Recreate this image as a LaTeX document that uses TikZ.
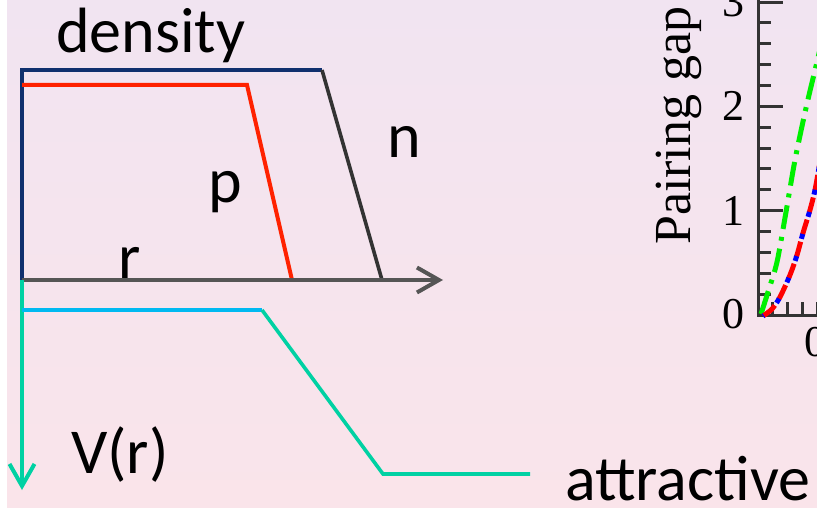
\documentclass[tikz,border=0pt]{standalone}
\usepackage{fontspec}
\setmainfont{Carlito}
\newfontfamily\timesfont{Liberation Serif}
\usetikzlibrary{arrows.meta}
\definecolor{navyc}{HTML}{10306E}
\definecolor{redc}{HTML}{FF2200}
\definecolor{tealc}{HTML}{00D1A3}
\definecolor{cyanc}{HTML}{00B9F1}
\definecolor{axgray}{HTML}{555555}
\definecolor{slopegray}{HTML}{333333}
\definecolor{bgtop}{HTML}{F1E4F1}
\definecolor{bgbot}{HTML}{FAE4EA}
\definecolor{plotgreen}{HTML}{00F000}
\begin{document}
\begin{tikzpicture}[x=1pt,y=-1pt,
  lbl/.style={inner sep=0pt, anchor=base west, font=\fontsize{64}{72}\selectfont},
  tick/.style={inner sep=0pt, font=\timesfont\fontsize{44}{50}\selectfont},
  barb/.style={-{Straight Barb[length=22pt,width=25pt,line width=4pt]}},
  plotax/.style={black!80, line width=3pt}]
\useasboundingbox (0,0) rectangle (817,508);
\clip (0,0) rectangle (817,508);
\fill[white] (0,0) rectangle (7,508);
\shade[top color=bgtop, bottom color=bgbot] (7,0) rectangle (817,508);

% density panel
\coordinate (o) at (22,280);
\draw[navyc, line width=4pt] (o) -- (22,70) -- (322,70);
\draw[slopegray, line width=3.6pt] (322,70) -- (382,280);
\draw[redc, line width=4pt] (22,85) -- (247,85) -- (292,280);
\draw[axgray, line width=4pt, barb] (o) -- (443,280);
\node[lbl] (dens) at (56,53) {density};
\node[lbl] (nl) at (387,158) {n};
\node[lbl] (pl) at (208,203) {p};
\node[lbl] (rl) at (118,278) {r};

% potential panel
\draw[tealc, line width=4pt, barb] (o) -- (22,490);
\draw[cyanc, line width=4pt] (22,310) -- (262,310);
\draw[tealc, line width=3.6pt] (262,310) -- (383,474) -- (530,474);
\node[lbl] (vl) at (71,473) {V(r)};
\node[lbl] (al) at (565,500) {attractive};

% pairing gap plot (cropped)
\draw[plotax] (758,-5) -- (758,315) -- (830,315);
\foreach \i in {0,1,2,3} {
  \draw[plotax] (758,{315-\i*104.3}) -- (783,{315-\i*104.3});
}
\foreach \i in {1,2,3,4,6,7,8,9,11,12,13,14} {
  \draw[plotax] (758,{315-\i*20.86}) -- (771,{315-\i*20.86});
}
\foreach \x in {772,787,802,817} {
  \draw[plotax] (\x,315) -- (\x,302);
}
\node[tick, anchor=east] (y0) at (745,314) {0};
\node[tick, anchor=east] (y1) at (745,211) {1};
\node[tick, anchor=east] (y2) at (745,106) {2};
\node[tick, anchor=east] (y3) at (745,2) {3};
\node[tick, anchor=west] (x0) at (804,342) {0};
\node[inner sep=0pt, rotate=90, anchor=base west, font=\timesfont\fontsize{52}{60}\selectfont] (pg) at (690,245) {Pairing gap};

\draw[plotgreen, line width=5pt, dash pattern=on 24pt off 8pt on 4pt off 8pt]
  plot[smooth] coordinates {(761,314) (768,292) (777,262) (786,212) (795,160) (806,108) (817,62) (821,45)};
\draw[red, line width=5pt, dash pattern=on 16pt off 7pt]
  plot[smooth] coordinates {(763,316) (772,309) (780,297) (790,275) (797,255) (803,233) (810,210) (815,190) (820,162)};
\draw[blue, line width=5pt, dash pattern=on 5pt off 18pt, dash phase=4pt]
  plot[smooth] coordinates {(763,316) (772,309) (780,297) (790,275) (797,255) (803,233) (810,210) (815,190) (820,162)};
\end{tikzpicture}
\end{document}
